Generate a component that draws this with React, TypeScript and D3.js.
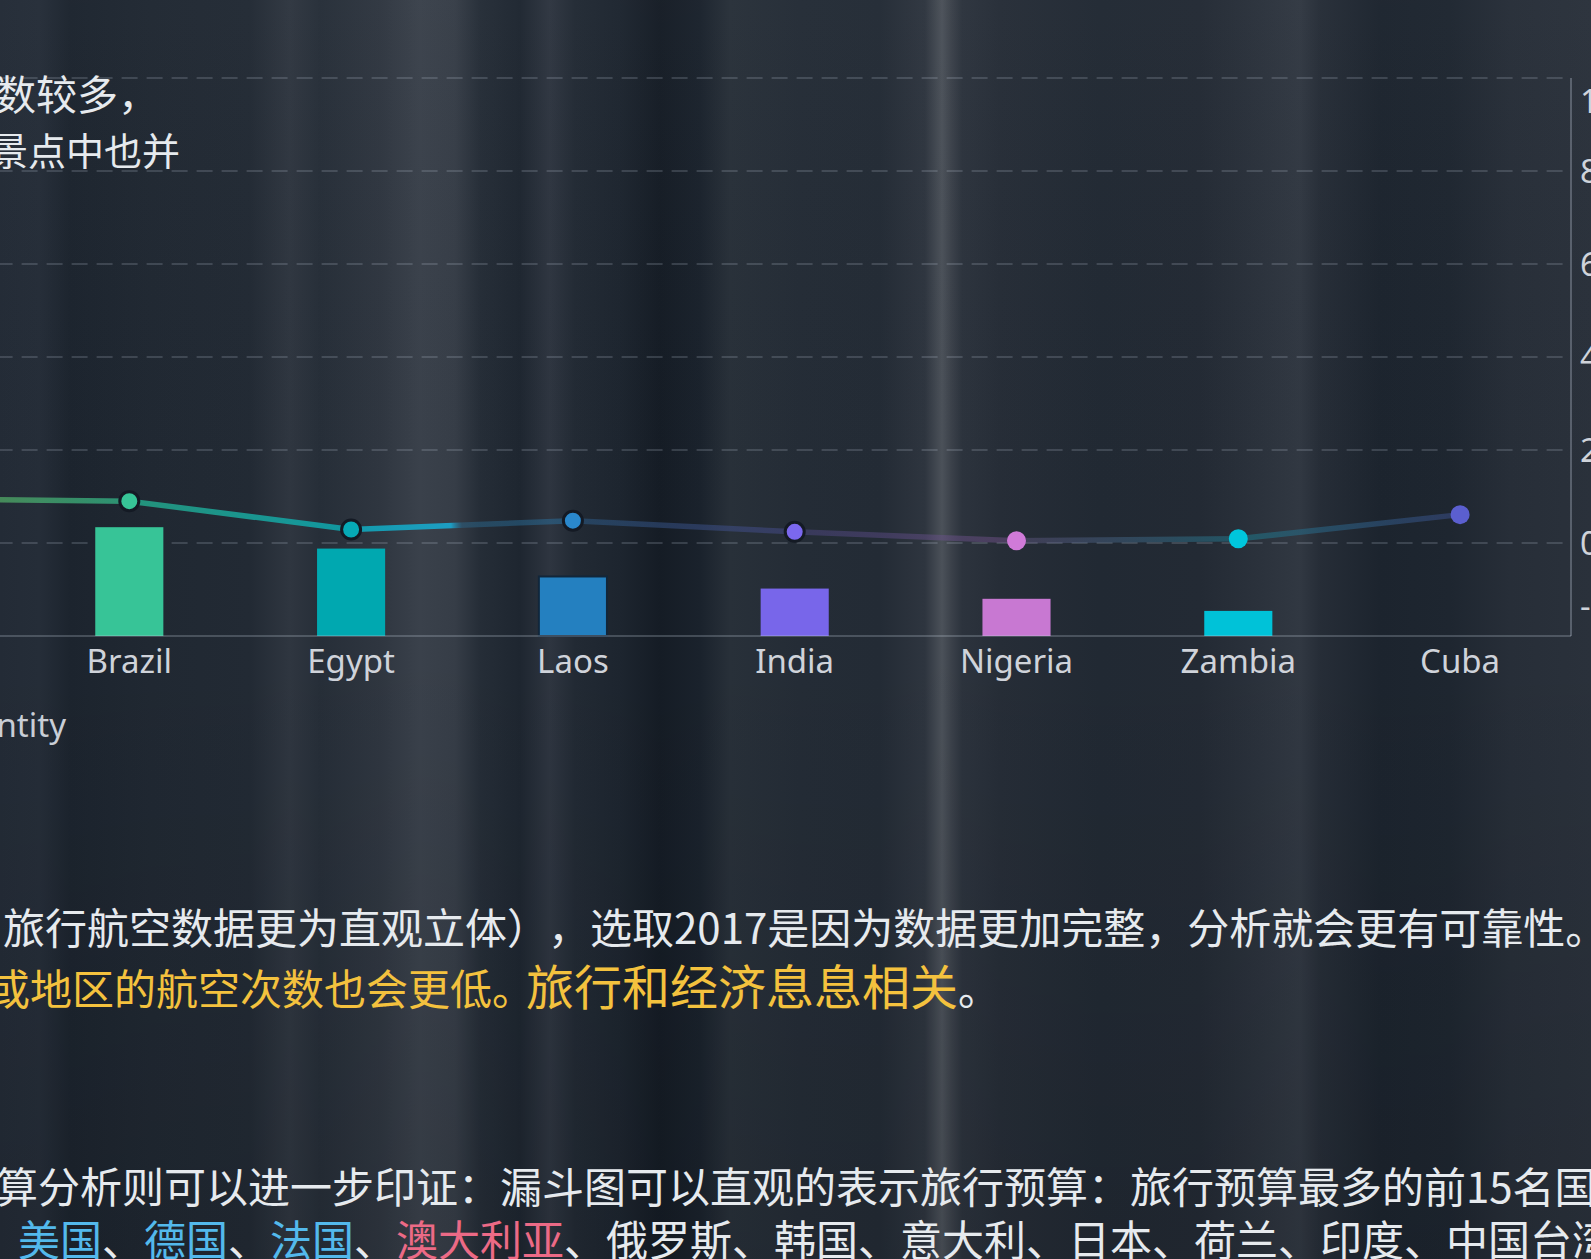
import React, { useEffect } from "react";
import * as d3 from "d3";

const W = 1591;
const H = 1259;

// ---- data ----
const categories = ["Mexico", "Brazil", "Egypt", "Laos", "India", "Nigeria", "Zambia", "Cuba"];
const barValues = [140, 117, 94, 64, 51, 40, 27, 0];
const lineValues = [0.95, 0.9, 0.29, 0.48, 0.24, 0.05, 0.09, 0.61];
const leftTicks = [0, 100, 200, 300, 400, 500, 600];
const rightTicks = [-2, 0, 2, 4, 6, 8, 10];
const axisName = "Quantity";

// ---- styles ----
const barColors = ["#8bc34a", "#37c497", "#00a8b0", "#2480c0", "#7866ea", "#c878d2", "#00c2d8", "#5b5fcf"];
const barStrokes = ["none", "none", "none", "#12263a", "none", "none", "none", "none"];
const pointColors = ["#8bc34a", "#37c597", "#06a9b6", "#2a88cc", "#7b68ee", "#d07ad8", "#00c6dc", "#5b5fcf"];
const pointRings = [true, true, true, true, true, false, false, false];
const segmentStops: [number, string, number][][] = [
  [[0, "#6aa84f", 0.7], [1, "#2fae86", 0.8]],
  [[0, "#25a587", 0.85], [1, "#0ea3ad", 0.9]],
  [[0, "#10a6b8", 0.9], [0.45, "#1aa8d0", 0.9], [0.5, "#2a6a90", 0.45], [1, "#2a7ab0", 0.45]],
  [[0, "#2a5f8c", 0.5], [1, "#4d4f98", 0.45]],
  [[0, "#504a8a", 0.45], [1, "#7a5590", 0.45]],
  [[0, "#6a5a88", 0.4], [1, "#1f7c90", 0.5]],
  [[0, "#1d7a8a", 0.55], [1, "#3e4f8e", 0.5]],
];

const bgStops: [number, string][] = [
  [0, "#232b36"], [40, "#252d38"], [70, "#1c242e"], [150, "#202832"], [250, "#222a34"],
  [290, "#2f3640"], [320, "#262e38"], [380, "#2f3640"], [420, "#3a414b"], [455, "#363d47"],
  [480, "#252d37"], [520, "#1e2630"], [550, "#2e3540"], [575, "#222a34"], [620, "#1d252f"],
  [660, "#151c25"], [700, "#1a222c"], [730, "#283039"], [800, "#242c36"], [880, "#232b35"],
  [925, "#2e353f"], [942, "#4b5159"], [952, "#3a4049"], [962, "#2c333d"], [1000, "#262d37"], [1100, "#212933"],
  [1200, "#232a34"], [1260, "#2b323c"], [1300, "#313842"], [1320, "#262d37"], [1380, "#1c242e"],
  [1450, "#1e2630"], [1510, "#272e38"], [1591, "#2a313b"],
];

const CJK = "'Noto Sans CJK SC', 'Microsoft YaHei', sans-serif";
const LATIN = "'Noto Sans', 'Open Sans', sans-serif";
const WHITE = "#e6eaee";
const YELLOW = "#f4c23e";
const BLUE = "#53b9ec";
const PINK = "#ec6a86";

export default function App() {
  useEffect(() => {
    document.body.style.margin = "0";
    document.body.style.overflow = "hidden";
  }, []);

  const plotRight = 1571;
  const plotTop = 78;
  const plotBottom = 636;
  const band = 221.8;
  const plotLeft = plotRight - categories.length * band;

  const x = d3.scaleBand<string>().domain(categories).range([plotLeft, plotRight]).padding(0);
  const yBar = d3.scaleLinear().domain([0, 600]).range([plotBottom, plotTop]);
  const yLine = d3.scaleLinear().domain([-2, 10]).range([plotBottom, plotTop]);
  const cx = (c: string) => (x(c) as number) + x.bandwidth() / 2;
  const barW = x.bandwidth() * 0.307;

  const pts = categories.map((c, i) => [cx(c), yLine(lineValues[i])] as [number, number]);
  const lineGen = d3.line();

  return (
    <svg width={W} height={H} style={{ position: "absolute", left: 0, top: 0, display: "block" }}>
      <defs>
        <linearGradient id="bg" gradientUnits="userSpaceOnUse" x1={0} y1={0} x2={W} y2={0}>
          {bgStops.map(([p, c], i) => (
            <stop key={i} offset={p / W} stopColor={c} />
          ))}
        </linearGradient>
        <linearGradient id="bgv" x1={0} y1={0} x2={0} y2={1}>
          <stop offset={0} stopColor="#ffffff" stopOpacity={0.02} />
          <stop offset={0.5} stopColor="#000000" stopOpacity={0} />
          <stop offset={1} stopColor="#000000" stopOpacity={0.1} />
        </linearGradient>
        {pts.slice(0, -1).map((p, i) => (
          <linearGradient
            key={i}
            id={`seg${i}`}
            gradientUnits="userSpaceOnUse"
            x1={p[0]}
            y1={p[1]}
            x2={pts[i + 1][0]}
            y2={pts[i + 1][1]}
          >
            {segmentStops[i].map(([o, c, op], j) => (
              <stop key={j} offset={o} stopColor={c} stopOpacity={op} />
            ))}
          </linearGradient>
        ))}
      </defs>

      <rect x={0} y={0} width={W} height={H} fill="url(#bg)" />
      <rect x={0} y={0} width={W} height={H} fill="url(#bgv)" />

      {/* grid lines */}
      {leftTicks.slice(1).map((t) => (
        <line
          key={t}
          x1={plotLeft}
          x2={plotRight - 6}
          y1={yBar(t)}
          y2={yBar(t)}
          stroke="rgba(200,210,225,0.25)"
          strokeWidth={1.6}
          strokeDasharray="16 9"
        />
      ))}

      {/* bars */}
      {categories.map((c, i) =>
        barValues[i] > 0 ? (
          <rect
            key={c}
            x={cx(c) - barW / 2}
            y={yBar(barValues[i])}
            width={barW}
            height={yBar(0) - yBar(barValues[i])}
            fill={barColors[i]}
            stroke={barStrokes[i]}
            strokeWidth={2}
          />
        ) : null
      )}

      {/* axis lines */}
      <line x1={plotLeft} x2={plotRight} y1={plotBottom} y2={plotBottom} stroke="rgba(200,210,225,0.32)" strokeWidth={1.5} />
      <line x1={plotRight} x2={plotRight} y1={plotTop} y2={plotBottom} stroke="rgba(200,210,225,0.3)" strokeWidth={2} />

      {/* line segments */}
      {pts.slice(0, -1).map((p, i) => (
        <path
          key={i}
          d={lineGen([p, pts[i + 1]]) as string}
          stroke={`url(#seg${i})`}
          strokeWidth={5.5}
          fill="none"
          strokeLinecap="round"
        />
      ))}

      {/* points */}
      {pts.map((p, i) => (
        <circle
          key={i}
          cx={p[0]}
          cy={p[1]}
          r={pointRings[i] ? 9.5 : 9.5}
          fill={pointColors[i]}
          stroke={pointRings[i] ? "#141a24" : "none"}
          strokeWidth={3}
        />
      ))}

      {/* x labels */}
      {categories.map((c) => (
        <text
          key={c}
          x={cx(c)}
          y={plotBottom + 11}
          dy="0.8em"
          textAnchor="middle"
          fontFamily={LATIN}
          fontSize={33}
          fill="#cfd3da"
        >
          {c}
        </text>
      ))}

      {/* right axis labels */}
      {rightTicks.map((t, i) => {
        const isTop = i === rightTicks.length - 1;
        const isBottom = i === 0;
        return (
          <text
            key={t}
            x={plotRight + 9}
            y={yLine(t)}
            dy={isTop ? "1.05em" : isBottom ? "-0.55em" : "0.35em"}
            fontFamily={LATIN}
            fontSize={33}
            fill="#cfd3da"
          >
            {t}
          </text>
        );
      })}

      {/* axis name */}
      <text x={66} y={725} dy="0.35em" textAnchor="end" fontFamily={LATIN} fontSize={33} fill="#c9ced6">
        {axisName}
      </text>

      {/* paragraph text */}
      <g fontFamily={CJK} fontSize={42} fill={WHITE}>
        <text x={-46} y={110} fontSize={41}>次数较多，</text>
        <text x={-48} y={165} fontSize={38}>的景点中也并</text>

        <text x={3} y={944}>
          旅行航空数据更为直观立体）
          <tspan dx={20}>，选取2017是因为数据更加完整，分析就会更有可靠性。</tspan>
        </text>
        <text x={-12} y={1005}>
          <tspan fill={YELLOW}>或地区的航空次数也会更低。</tspan>
          <tspan fill={YELLOW} fontSize={48} dx={-8}>旅行和经济息息相关</tspan>
          <tspan fill={WHITE}>。</tspan>
        </text>

        <text x={-46} y={1203}>预算分析则可以进一步印证：漏斗图可以直观的表示旅行预算：旅行预算最多的前15名国家</text>
        <text x={18} y={1256}>
          <tspan fill={BLUE}>美国</tspan>
          <tspan>、</tspan>
          <tspan fill={BLUE}>德国</tspan>
          <tspan>、</tspan>
          <tspan fill={BLUE}>法国</tspan>
          <tspan>、</tspan>
          <tspan fill={PINK}>澳大利亚</tspan>
          <tspan>、俄罗斯、韩国、意大利、日本、荷兰、印度、中国台湾</tspan>
        </text>
      </g>
    </svg>
  );
}
